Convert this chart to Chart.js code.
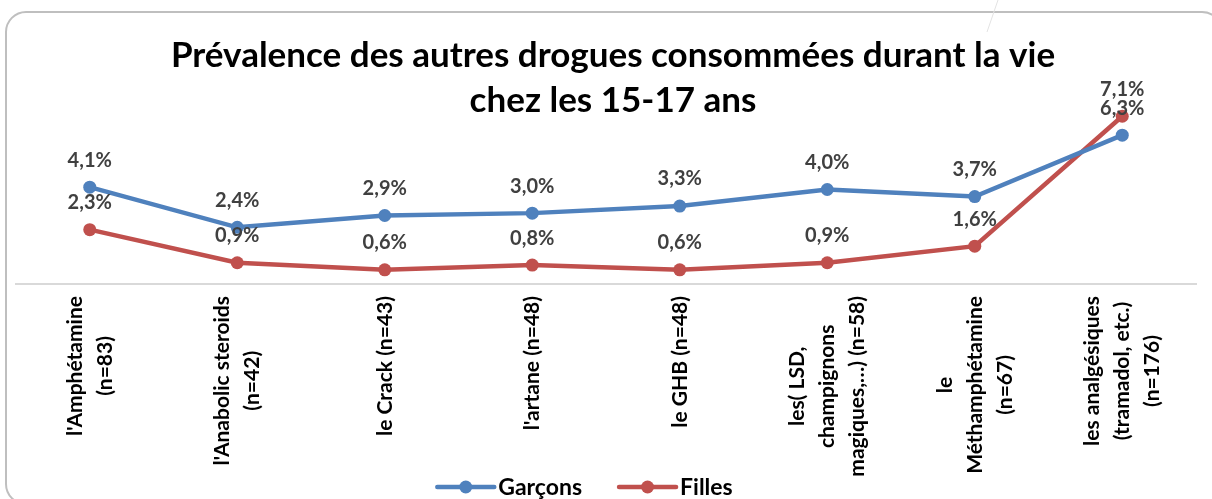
<!DOCTYPE html>
<html lang="fr">
<head>
<meta charset="utf-8">
<title>Prévalence des autres drogues consommées durant la vie chez les 15-17 ans</title>
<script src="https://cdn.jsdelivr.net/npm/chart.js@4/dist/chart.umd.min.js"></script>
<style>
  html, body { margin: 0; padding: 0; background: #fff; }
  canvas { display: block; }
</style>
</head>
<body>
<canvas id="drugChart" width="1212" height="499"></canvas>
<script>
// categories (one array entry per printed line)
const categories = [
  ["l'Amphétamine", "(n=83)"],
  ["l'Anabolic steroids", "(n=42)"],
  ["le Crack (n=43)"],
  ["l'artane (n=48)"],
  ["le GHB (n=48)"],
  ["les( LSD,", "champignons", "magiques,…) (n=58)"],
  ["le", "Méthamphétamine", "(n=67)"],
  ["les analgésiques", "(tramadol, etc.)", "(n=176)"],
];

// prevalence in %
const garcons = [4.1, 2.4, 2.9, 3.0, 3.3, 4.0, 3.7, 6.3];
const filles = [2.3, 0.9, 0.6, 0.8, 0.6, 0.9, 1.6, 7.1];

const titleLines = [
  "Prévalence des autres drogues consommées durant la vie",
  "chez les 15-17 ans",
];

const BLUE = "#4F81BD";
const RED = "#C0504D";
const FONT = "Lato, 'Open Sans', sans-serif";

function fmt(v) {
  return v.toFixed(1).replace(".", ",") + "%";
}

// white card with a rounded grey frame
const framePlugin = {
  id: "frame",
  beforeDraw(chart) {
    const ctx = chart.ctx;
    ctx.save();
    ctx.fillStyle = "#fff";
    ctx.fillRect(0, 0, chart.width, chart.height);
    ctx.strokeStyle = "#BFBFBF";
    ctx.lineWidth = 2;
    ctx.beginPath();
    ctx.roundRect(6, 12, 1216, 492, 20);
    ctx.stroke();
    // stray connector line at the top
    ctx.strokeStyle = "#E3E3E3";
    ctx.lineWidth = 1;
    ctx.beginPath();
    ctx.moveTo(998, 0);
    ctx.lineTo(987, 32);
    ctx.stroke();
    ctx.restore();
  },
};

const titlePlugin = {
  id: "bigTitle",
  afterDraw(chart) {
    const ctx = chart.ctx;
    ctx.save();
    ctx.font = "bold 35px " + FONT;
    ctx.fillStyle = "#000";
    ctx.textAlign = "center";
    ctx.textBaseline = "middle";
    titleLines.forEach((t, i) => ctx.fillText(t, 613, 56 + i * 45));
    ctx.restore();
  },
};

// value labels above each point
const valueLabels = {
  id: "valueLabels",
  afterDatasetsDraw(chart) {
    const ctx = chart.ctx;
    ctx.save();
    ctx.font = "bold 20px " + FONT;
    ctx.fillStyle = "#404040";
    ctx.textAlign = "center";
    ctx.textBaseline = "middle";
    chart.data.datasets.forEach((ds, di) => {
      chart.getDatasetMeta(di).data.forEach((pt, i) => {
        ctx.fillText(fmt(ds.data[i]), pt.x, pt.y - 27);
      });
    });
    ctx.restore();
  },
};

// rotated, centred multi-line category labels under the axis
const categoryLabels = {
  id: "categoryLabels",
  afterDraw(chart) {
    const ctx = chart.ctx;
    const xs = chart.scales.x;
    const lh = 30;
    ctx.save();
    ctx.font = "bold 21px " + FONT;
    ctx.fillStyle = "#000";
    ctx.textAlign = "center";
    ctx.textBaseline = "middle";
    chart.data.labels.forEach((lines, i) => {
      const x = xs.getPixelForValue(i);
      const maxW = Math.max(...lines.map((l) => ctx.measureText(l).width));
      lines.forEach((line, j) => {
        const off = (j - (lines.length - 1) / 2) * lh;
        ctx.save();
        ctx.translate(x + off, xs.top + 12 + maxW / 2);
        ctx.rotate(-Math.PI / 2);
        ctx.fillText(line, 0, 0);
        ctx.restore();
      });
    });
    ctx.restore();
  },
};

// legend with line + dot markers
const lineLegend = {
  id: "lineLegend",
  afterDraw(chart) {
    const ctx = chart.ctx;
    const y = 487;
    const seg = 57;
    const gap = 37;
    ctx.save();
    ctx.font = "bold 23px " + FONT;
    ctx.textBaseline = "middle";
    const items = chart.data.datasets.map((ds) => ({
      ds,
      w: seg + 4 + ctx.measureText(ds.label).width,
    }));
    const total = items.reduce((a, it) => a + it.w, 0) + gap * (items.length - 1);
    let x = 585 - total / 2;
    items.forEach(({ ds, w }) => {
      ctx.strokeStyle = ds.borderColor;
      ctx.lineWidth = 4.5;
      ctx.lineCap = "round";
      ctx.beginPath();
      ctx.moveTo(x, y);
      ctx.lineTo(x + seg, y);
      ctx.stroke();
      ctx.fillStyle = ds.borderColor;
      ctx.beginPath();
      ctx.arc(x + seg / 2, y, 6.5, 0, Math.PI * 2);
      ctx.fill();
      ctx.fillStyle = "#000";
      ctx.fillText(ds.label, x + seg + 4, y + 1);
      x += w + gap;
    });
    ctx.restore();
  },
};

const ctx = document.getElementById("drugChart").getContext("2d");

new Chart(ctx, {
  type: "line",
  data: {
    labels: categories,
    datasets: [
      {
        label: "Garçons",
        data: garcons,
        borderColor: BLUE,
        backgroundColor: BLUE,
        borderWidth: 4.5,
        pointRadius: 6.5,
        pointHoverRadius: 6.5,
        pointBorderWidth: 0,
        tension: 0,
      },
      {
        label: "Filles",
        data: filles,
        borderColor: RED,
        backgroundColor: RED,
        borderWidth: 4.5,
        pointRadius: 6.5,
        pointHoverRadius: 6.5,
        pointBorderWidth: 0,
        tension: 0,
      },
    ],
  },
  options: {
    responsive: false,
    animation: false,
    layout: { padding: { top: 95, left: 16, right: 16, bottom: 0 } },
    plugins: {
      legend: { display: false },
      title: { display: false },
      tooltip: { enabled: false },
    },
    scales: {
      x: {
        offset: true,
        grid: { display: false },
        border: { display: true, color: "#D9D9D9", width: 2 },
        ticks: { display: false },
        afterFit: (scale) => {
          scale.height = 215;
        },
      },
      y: {
        display: false,
        min: 0,
        max: 8,
      },
    },
  },
  plugins: [framePlugin, titlePlugin, valueLabels, categoryLabels, lineLegend],
});
</script>
</body>
</html>
